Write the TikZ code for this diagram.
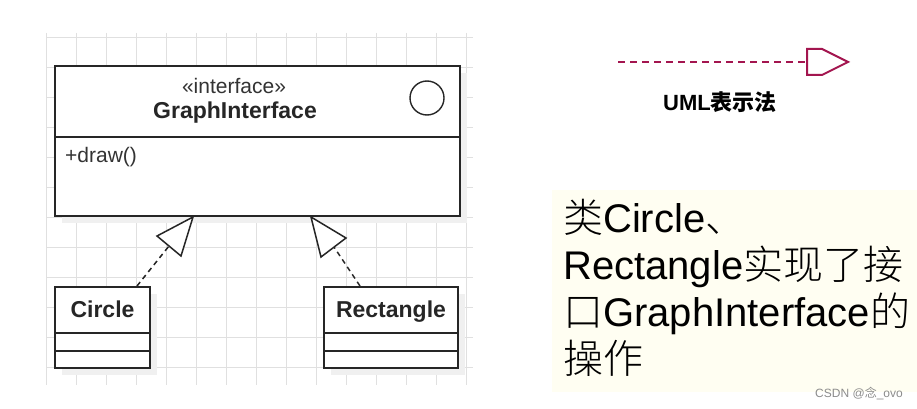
\documentclass[tikz,border=0pt]{standalone}
\usepackage{fontspec}
\setmainfont{Liberation Sans}
\newfontfamily\cjk{Noto Sans CJK SC}
\newfontfamily\cjkl{Noto Sans CJK SC Light}
\begin{document}
\begin{tikzpicture}[x=1pt,y=-1pt,
  box/.style={draw=black!85,line width=1.6pt,fill=white},
  shad/.style={fill=black!6},
  real/.style={draw=black!85,line width=1.5pt,dash pattern=on 5pt off 4pt},
  tri/.style={draw=black!85,line width=1.5pt,fill=white,line join=miter},
  lbl/.style={inner sep=0pt}]
\useasboundingbox (0,0) rectangle (917,409);
\fill[white] (0,0) rectangle (917,409);
% grid
\foreach \x in {46,76,...,466}{\draw[black!12,line width=0.7pt] (\x,33)--(\x,385);}
\foreach \y in {37,67,...,385}{\draw[black!12,line width=0.7pt] (46,\y)--(473,\y);}
% shadows
\fill[shad] (62,73) rectangle (467,223);
\fill[shad] (62,294) rectangle (157,375);
\fill[shad] (331,294) rectangle (465,375);
% interface box
\draw[box] (55,66) rectangle (460,216);
\coordinate (gitopL) at (193,217);
\coordinate (gitopR) at (311,217);
\draw[black!85,line width=1.6pt] (55,137) -- (460,137);
\node[draw=black!85,line width=1.4pt,circle,minimum size=34pt,inner sep=0pt] (ic) at (427,98) {};
\node[lbl,font=\fontsize{21}{24}\selectfont,text=black!80] (st) at (234,86) {«interface»};
\node[lbl,font=\fontsize{23}{26}\selectfont\bfseries,text=black!85] (gn) at (235,113) {GraphInterface};
\node[lbl,anchor=west,font=\fontsize{21}{24}\selectfont,text=black!80] (dr) at (65,157) {+draw()};
% Circle
\draw[box] (55,287) rectangle (150,368);
\draw[black!85,line width=1.6pt] (55,333)--(150,333) (55,351)--(150,351);
\node[lbl,anchor=base,font=\fontsize{23}{26}\selectfont\bfseries,text=black!85] (ci) at (102.5,317) {Circle};
\coordinate (ciT) at (137,286);
% Rectangle
\draw[box] (324,287) rectangle (458,368);
\draw[black!85,line width=1.6pt] (324,333)--(458,333) (324,351)--(458,351);
\node[lbl,anchor=base,font=\fontsize{23}{26}\selectfont\bfseries,text=black!85] (re) at (391,317) {Rectangle};
\coordinate (reT) at (360,286);
% realizations
\draw[real] (ciT) -- (169,246);
\draw[tri] (gitopL) -- (157,236) -- (181,256) -- cycle;
\draw[real] (reT) -- (334,247);
\draw[tri] (gitopR) -- (346,238) -- (321,257) -- cycle;
% legend
\definecolor{umlred}{HTML}{A3154F}
\coordinate (la) at (618,62);
\coordinate (lb) at (807,62);
\draw[umlred,line width=2pt,dash pattern=on 7pt off 5pt] (la) -- (lb);
\draw[umlred,line width=2pt,line join=miter] (807,49) -- (822,49) -- (848,62) -- (822,75) -- (807,75) -- cycle;
\node[lbl,font=\fontsize{22}{24}\selectfont\bfseries] (um) at (720,102) {UML{\cjk\bfseries 表示法}};
% yellow note
\fill[yellow!5] (552,190) rectangle (917,392);
\node[lbl,anchor=base west,font=\fontsize{40}{44}\selectfont] (t1) at (563,232) {{\cjkl 类}Circle{\cjkl 、}};
\node[lbl,anchor=base west,font=\fontsize{40}{44}\selectfont] (t2) at (563,279) {Rectangle{\cjkl 实现了接}};
\node[lbl,anchor=base west,font=\fontsize{40}{44}\selectfont] (t3) at (563,326) {{\cjkl 口}GraphInterface{\cjkl 的}};
\node[lbl,anchor=base west,font=\fontsize{40}{44}\selectfont] (t4) at (563,373) {{\cjkl 操作}};
\node[lbl,font=\fontsize{12}{13}\selectfont,text=black!45] (wm) at (859,394) {CSDN @{\cjk 念}\_ovo};
\end{tikzpicture}
\end{document}
